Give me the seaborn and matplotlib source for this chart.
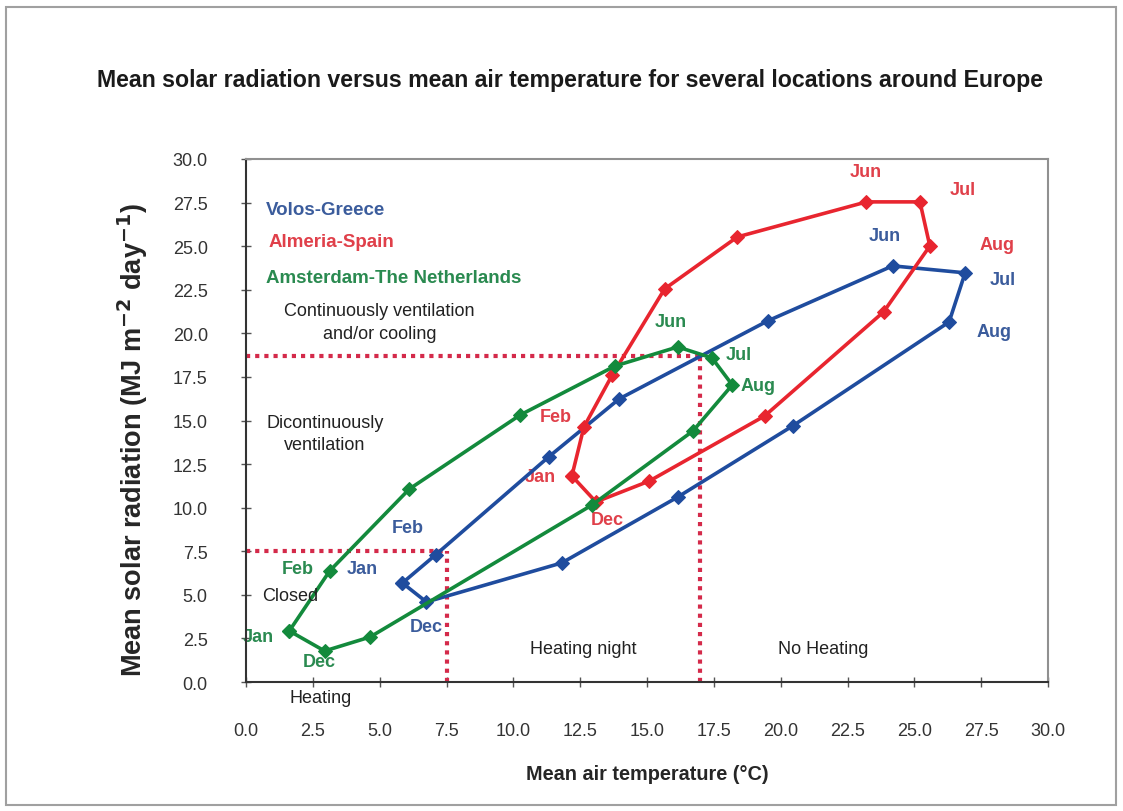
import matplotlib
matplotlib.use("Agg")
import matplotlib.pyplot as plt
import seaborn as sns
import pandas as pd
from matplotlib.patches import Rectangle

months = ["Jan", "Feb", "Mar", "Apr", "May", "Jun", "Jul", "Aug", "Sep", "Oct", "Nov", "Dec"]

volos_temp = [5.85, 7.09, 11.32, 13.96, 19.51, 24.19, 26.9, 26.3, 20.45, 16.15, 11.81, 6.75]
volos_rad = [5.68, 7.29, 12.91, 16.24, 20.71, 23.87, 23.47, 20.65, 14.69, 10.61, 6.83, 4.59]

almeria_temp = [12.19, 12.64, 13.70, 15.66, 18.38, 23.21, 25.21, 25.58, 23.85, 19.40, 15.09, 13.09]
almeria_rad = [11.82, 14.63, 17.61, 22.55, 25.53, 27.54, 27.54, 25.01, 21.23, 15.26, 11.53, 10.33]

amst_temp = [1.62, 3.13, 6.11, 10.26, 13.81, 16.15, 17.43, 18.19, 16.72, 12.94, 4.64, 2.94]
amst_rad = [2.93, 6.37, 11.07, 15.32, 18.13, 19.22, 18.59, 17.04, 14.40, 10.15, 2.58, 1.78]

sites = ["Volos-Greece", "Almeria-Spain", "Amsterdam-The Netherlands"]
line_colors = {"Volos-Greece": "#1f4c9e", "Almeria-Spain": "#e8252f", "Amsterdam-The Netherlands": "#138a3c"}
text_colors = {"Volos-Greece": "#3b5c9c", "Almeria-Spain": "#e0404a", "Amsterdam-The Netherlands": "#2a8a50"}

# thresholds
t_low, r_low = 7.5, 7.5
t_high, r_high = 17.0, 18.7

x_ticks = [0.0, 2.5, 5.0, 7.5, 10.0, 12.5, 15.0, 17.5, 20.0, 22.5, 25.0, 27.5, 30.0]
y_ticks = x_ticks

rows = []
for site, tt, rr in [(sites[0], volos_temp, volos_rad), (sites[1], almeria_temp, almeria_rad),
                     (sites[2], amst_temp, amst_rad)]:
    seq = list(range(12)) + [0]
    for k, i in enumerate(seq):
        rows.append({"site": site, "order": k, "month": months[i], "temp": tt[i], "rad": rr[i]})
df = pd.DataFrame(rows)

sns.set_theme(style="white")
plt.rcParams["font.family"] = ["Liberation Sans", "DejaVu Sans"]

fig = plt.figure(figsize=(11.23, 8.12), dpi=100)
ax = fig.add_axes([246 / 1123, 1 - 683 / 812, (1048 - 246) / 1123, (683 - 160) / 812])

# outer frame
fig.patches.append(Rectangle((6 / 1123, 6 / 812), 1110 / 1123, 798 / 812, transform=fig.transFigure,
                             fill=False, edgecolor="#a0a0a0", linewidth=1.5))

dot_kw = dict(color="#d42a4a", linestyle=(0, (1, 1.2)), linewidth=3.0, zorder=1)
ax.plot([0, t_high], [r_high, r_high], **dot_kw)
ax.plot([t_high, t_high], [0, r_high], **dot_kw)
ax.plot([0, t_low], [r_low, r_low], **dot_kw)
ax.plot([t_low, t_low], [0, r_low], **dot_kw)

for site in sites:
    sub = df[df.site == site]
    sns.lineplot(data=sub, x="temp", y="rad", sort=False, estimator=None, ax=ax,
                 color=line_colors[site], linewidth=2.6, marker="D", markersize=7.5,
                 markeredgecolor=line_colors[site], zorder=3)

ax.set_xlim(0, 30)
ax.set_ylim(0, 30)
ax.set_xticks(x_ticks)
ax.set_yticks(y_ticks)
ax.set_xticklabels([f"{v:.1f}" for v in x_ticks])
ax.set_yticklabels([f"{v:.1f}" for v in y_ticks])
ax.tick_params(axis="both", direction="inout", length=7, width=1, colors="#555555",
               labelsize=13, labelcolor="#333333")
ax.tick_params(axis="x", pad=25)
ax.tick_params(axis="y", pad=24)
ax.xaxis.set_ticks_position("bottom")
ax.yaxis.set_ticks_position("left")
for s in ["top", "right"]:
    ax.spines[s].set_color("#909090")
    ax.spines[s].set_linewidth(1.5)
for s in ["left", "bottom"]:
    ax.spines[s].set_color("#333333")
    ax.spines[s].set_linewidth(1.5)

ax.set_xlabel("Mean air temperature (°C)", fontsize=14.3, fontweight="bold", labelpad=18)
ax.set_ylabel("Mean solar radiation (MJ m$^{\\mathbf{-2}}$ day$^{\\mathbf{-1}}$)", fontsize=19.5,
              fontweight="bold")
ax.yaxis.set_label_coords(-0.12, 0.465)

fig.text(0.508, 1 - 80 / 812, "Mean solar radiation versus mean air temperature for several locations around Europe",
         ha="center", va="center", fontsize=16.7, fontweight="bold", color="#1a1a1a",
         family=["Liberation Sans Narrow", "Liberation Sans", "DejaVu Sans"])

# series names
ax.text(0.75, 27.1, sites[0], color=text_colors[sites[0]], fontsize=13.5, fontweight="bold", va="center")
ax.text(0.85, 25.25, sites[1], color=text_colors[sites[1]], fontsize=13.5, fontweight="bold", va="center")
ax.text(0.75, 23.2, sites[2], color=text_colors[sites[2]], fontsize=13.5, fontweight="bold", va="center")

# zone labels
zone_kw = dict(fontsize=13, color="#222222", ha="center", va="center")
ax.text(5.0, 20.65, "Continuously ventilation\nand/or cooling", linespacing=1.45, **zone_kw)
ax.text(2.95, 14.25, "Dicontinuously\nventilation", linespacing=1.45, **zone_kw)
ax.text(1.65, 4.95, "Closed", **zone_kw)
ax.text(2.8, -0.9, "Heating", **zone_kw)
ax.text(12.6, 1.95, "Heating night", **zone_kw)
ax.text(21.6, 1.95, "No Heating", **zone_kw)

# month labels
lbl_kw = dict(fontsize=13, fontweight="bold", ha="center", va="center", zorder=2)
c = text_colors[sites[0]]
for m, x, y in [("Feb", 6.05, 8.85), ("Jan", 4.35, 6.5), ("Dec", 6.75, 3.2),
                ("Jun", 23.9, 25.6), ("Jul", 28.3, 23.1), ("Aug", 28.0, 20.1)]:
    ax.text(x, y, m, color=c, **lbl_kw)
c = text_colors[sites[1]]
for m, x, y in [("Jun", 23.2, 29.3), ("Jul", 26.8, 28.25), ("Aug", 28.1, 25.1),
                ("Feb", 11.6, 15.25), ("Jan", 11.0, 11.8), ("Dec", 13.5, 9.3)]:
    ax.text(x, y, m, color=c, **lbl_kw)
c = text_colors[sites[2]]
for m, x, y in [("Jun", 15.9, 20.7), ("Jul", 18.45, 18.8), ("Aug", 19.15, 17.0),
                ("Feb", 1.95, 6.5), ("Jan", 0.45, 2.6), ("Dec", 2.75, 1.15)]:
    ax.text(x, y, m, color=c, **lbl_kw)

for t in ax.texts:
    t.set_clip_on(False)

fig.savefig("out.png", dpi=100)
